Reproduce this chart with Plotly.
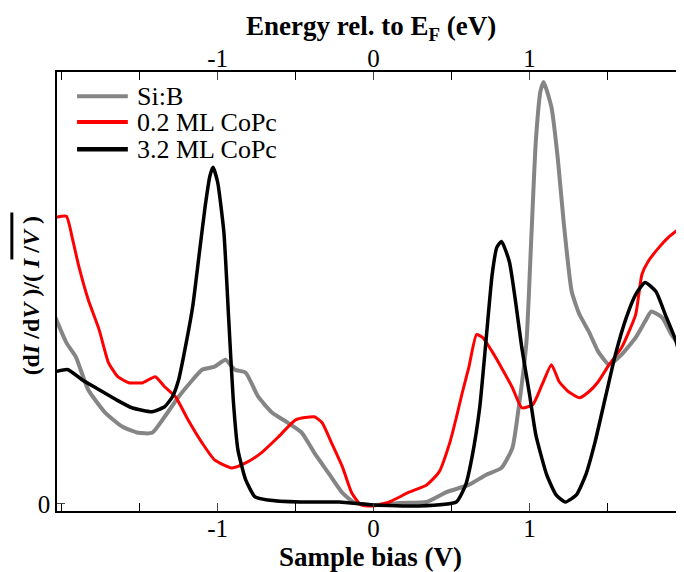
import plotly.graph_objects as go

# Spektren (Bias in V, normierte dI/dV in w.E.)
sib_x = [-2.04, -1.97, -1.91, -1.83, -1.72, -1.61, -1.51, -1.42, -1.34, -1.25, -1.16, -1.10,
         -1.02, -0.95, -0.89, -0.82, -0.74, -0.65, -0.55, -0.46, -0.38, -0.29, -0.20, -0.12,
         0.00, 0.17, 0.34, 0.47, 0.61, 0.72, 0.82, 0.89, 0.93, 0.98, 1.01, 1.04, 1.07, 1.09,
         1.14, 1.18, 1.22, 1.27, 1.32, 1.38, 1.44, 1.51, 1.59, 1.68, 1.74, 1.78, 1.85, 1.91, 1.97]
sib_y = [1.86, 1.61, 1.47, 1.14, 0.91, 0.77, 0.71, 0.71, 0.87, 1.07, 1.24, 1.34,
         1.37, 1.44, 1.34, 1.31, 1.07, 0.91, 0.81, 0.71, 0.51, 0.31, 0.11, 0.01,
         -0.01, 0.01, 0.02, 0.12, 0.19, 0.29, 0.36, 0.56, 0.96, 1.62, 2.62, 3.62, 4.12, 4.21,
         3.96, 3.46, 2.79, 2.12, 1.89, 1.72, 1.52, 1.39, 1.49, 1.66, 1.82, 1.92, 1.86, 1.69, 1.56]

ml02_x = [-2.04, -1.97, -1.93, -1.89, -1.83, -1.76, -1.70, -1.64, -1.57, -1.48, -1.40, -1.34,
          -1.27, -1.19, -1.10, -1.02, -0.91, -0.82, -0.72, -0.61, -0.50, -0.38, -0.33, -0.27,
          -0.20, -0.14, -0.08, 0.00, 0.10, 0.23, 0.34, 0.42, 0.49, 0.53, 0.57, 0.61, 0.66, 0.70,
          0.76, 0.82, 0.89, 0.95, 1.02, 1.08, 1.14, 1.19, 1.25, 1.32, 1.38, 1.44, 1.51, 1.59,
          1.68, 1.72, 1.76, 1.83, 1.89, 1.97]
ml02_y = [2.86, 2.87, 2.64, 2.37, 2.04, 1.74, 1.41, 1.27, 1.21, 1.21, 1.27, 1.17,
          1.07, 0.84, 0.61, 0.44, 0.36, 0.41, 0.51, 0.67, 0.84, 0.87, 0.81, 0.61,
          0.37, 0.11, -0.01, -0.02, 0.02, 0.12, 0.19, 0.32, 0.62, 0.86, 1.12, 1.36, 1.69, 1.66,
          1.52, 1.36, 1.16, 0.96, 0.99, 1.19, 1.39, 1.22, 1.12, 1.06, 1.12, 1.22, 1.39, 1.56,
          1.89, 2.29, 2.42, 2.56, 2.66, 2.76]

ml32_x = [-2.04, -1.96, -1.87, -1.76, -1.65, -1.55, -1.42, -1.34, -1.29, -1.25, -1.21, -1.16,
          -1.12, -1.08, -1.05, -1.03, -1.00, -0.96, -0.93, -0.90, -0.87, -0.82, -0.76, -0.68,
          -0.47, -0.22, 0.00, 0.29, 0.53, 0.59, 0.63, 0.68, 0.72, 0.76, 0.79, 0.82, 0.87, 0.91,
          0.95, 1.00, 1.04, 1.11, 1.17, 1.23, 1.30, 1.36, 1.42, 1.49, 1.55, 1.62, 1.68, 1.74,
          1.81, 1.87, 1.94, 1.97]
ml32_y = [1.32, 1.34, 1.24, 1.14, 1.04, 0.96, 0.92, 0.97, 1.07, 1.24, 1.54, 1.97,
          2.47, 2.97, 3.27, 3.36, 3.21, 2.71, 1.87, 1.04, 0.54, 0.24, 0.07, 0.04,
          0.02, 0.02, -0.01, -0.02, 0.02, 0.19, 0.46, 0.96, 1.62, 2.29, 2.56, 2.62, 2.42, 2.02,
          1.56, 1.09, 0.69, 0.29, 0.09, 0.02, 0.09, 0.29, 0.62, 1.09, 1.49, 1.86, 2.09, 2.21,
          2.12, 1.89, 1.62, 1.42]

names = ["Si:B", "0.2 ML CoPc", "3.2 ML CoPc"]
colors = ["#858585", "#ff0000", "#000000"]
widths = [4, 3, 3.5]

x_range = [-2.03, 1.99]
y_range = [-0.07, 4.31]
font = "Liberation Serif"

fig = go.Figure()
for xs, ys, name, col, w in zip([sib_x, ml02_x, ml32_x], [sib_y, ml02_y, ml32_y],
                                names, colors, widths):
    fig.add_trace(go.Scatter(x=xs, y=ys, mode="lines", name=name,
                             line=dict(color=col, width=w, shape="spline", smoothing=0.5)))

# obere Achse (Energie) nur zur Beschriftung
fig.add_trace(go.Scatter(x=[0], y=[0], xaxis="x2", mode="markers", showlegend=False,
                         marker=dict(opacity=0), hoverinfo="skip"))

# Seite hat 8px Rand, daher Figur etwas kleiner
fig.update_layout(
    width=676, height=564,
    margin=dict(l=49, r=0, t=64, b=61),
    paper_bgcolor="white", plot_bgcolor="white",
    font=dict(family=font, size=25, color="black"),
    showlegend=False,
    xaxis=dict(range=x_range, tickvals=[-1, 0, 1], ticktext=["-1", "0", "1"],
               ticks="inside", ticklen=8, showline=True, linecolor="black", linewidth=1.5,
               showgrid=False, zeroline=False, automargin=False, ticklabelstandoff=-6,
               minor=dict(dtick=0.5, ticks="inside", ticklen=8, tickcolor="black")),
    xaxis2=dict(range=x_range, overlaying="x", side="top", tickvals=[-1, 0, 1],
                ticktext=["-1", "0", "1"], ticks="inside", ticklen=8, showline=True,
                linecolor="black", linewidth=1.5, showgrid=False, zeroline=False,
                automargin=False, ticklabelstandoff=-7,
                minor=dict(dtick=0.5, ticks="inside", ticklen=8, tickcolor="black")),
    yaxis=dict(range=y_range, tickvals=[0], ticktext=["0"], ticks="inside", ticklen=8,
               showline=True, mirror="ticks", linecolor="black", linewidth=1.5,
               showgrid=False, zeroline=False, automargin=False),
)

# Achsentitel
fig.add_annotation(text="<b>Sample bias (V)</b>", xref="paper", yref="paper",
                   x=0.5, y=-0.104, xanchor="center", yanchor="middle",
                   showarrow=False, font=dict(size=27))
fig.add_annotation(text="<b>Energy rel. to E<sub>F</sub> (eV)</b>", xref="paper",
                   yref="paper", x=0.5, y=1.10, xanchor="center", yanchor="middle",
                   showarrow=False, font=dict(size=27))
fig.add_annotation(text="<b>(d<i>I</i> /d<i>V</i> )/( <i>I</i> /<i>V</i> )</b>",
                   xref="paper", yref="paper", x=-0.040, y=0.491, textangle=-90,
                   xanchor="center", yanchor="middle", showarrow=False,
                   font=dict(size=24))
# Querstrich über (I/V) im y-Titel
fig.add_shape(type="line", xref="paper", yref="paper", x0=-0.072, x1=-0.072,
              y0=0.573, y1=0.68, line=dict(color="black", width=3))

# Legende oben links
leg_y = [0.945, 0.886, 0.824]
for name, col, ly in zip(names, colors, leg_y):
    fig.add_shape(type="line", xref="paper", yref="paper", x0=0.032, x1=0.113,
                  y0=ly, y1=ly, line=dict(color=col, width=4.5 if col == "#000000" else 4))
    fig.add_annotation(text=name, xref="paper", yref="paper", x=0.124, y=ly,
                       xanchor="left", yanchor="middle", showarrow=False,
                       font=dict(size=26))

fig.write_html("out.html")
